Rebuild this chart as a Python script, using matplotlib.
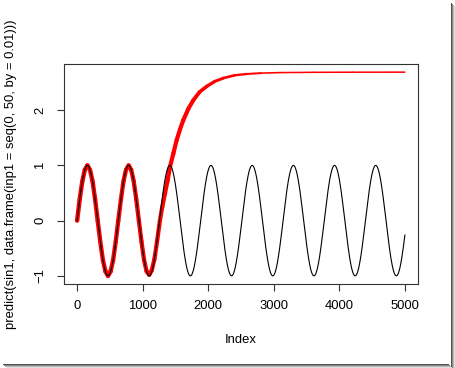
import numpy as np
import matplotlib
matplotlib.use("Agg")
import matplotlib.pyplot as plt
from matplotlib.collections import LineCollection
from matplotlib.patches import Rectangle

plt.rcParams['font.family'] = ['Liberation Sans', 'DejaVu Sans']

# ---- data ----
inp1 = np.arange(0, 5001) * 0.01          # seq(0, 50, by = 0.01)
black_index = np.arange(1, 5002)
black_value = np.sin(inp1)

red_index = [1, 40, 80, 119, 158, 197, 237, 276, 315, 354, 394, 433, 472, 512, 551, 590,
             629, 669, 708, 747, 786, 826, 865, 904, 943, 983, 1022, 1061, 1101, 1140, 1180, 1220,
             1264, 1300, 1341, 1380, 1417, 1470, 1520, 1570, 1621, 1700, 1774, 1870, 1978, 2100,
             2232, 2400, 2590, 2800, 3100, 3600, 4200, 5001]
red_value = [0, .38, .71, .92, 1, .92, .71, .38, 0, -.38, -.71, -.92, -1, -.92, -.71, -.38,
             0, .38, .71, .92, 1, .92, .71, .38, 0, -.38, -.71, -.92, -.98, -.90, -.70, -.38,
             0.0, .25, .49, .72, .97, 1.22, 1.46, 1.65, 1.82, 2.03, 2.18, 2.33, 2.43, 2.52,
             2.58, 2.63, 2.655, 2.67, 2.68, 2.685, 2.687, 2.688]

x_ticks = [0, 1000, 2000, 3000, 4000, 5000]
y_ticks = [-1, 0, 1, 2]
x_label = "Index"
y_label = "predict(sin1, data.frame(inp1 = seq(0, 50, by = 0.01)))"

# ---- figure ----
W, H = 455, 368
fig = plt.figure(figsize=(W / 100, H / 100), dpi=100)
ax = fig.add_axes([64 / W, 1 - 284 / H, (418 - 64) / W, (284 - 64) / H])

# red prediction with width tapering (style only)
rx = np.array(red_index, dtype=float)
ry = np.array(red_value, dtype=float)
pts = np.column_stack([rx, ry]).reshape(-1, 1, 2)
segs = np.concatenate([pts[:-1], pts[1:]], axis=1)
mid = (rx[:-1] + rx[1:]) / 2
widths = np.interp(mid, [0, 1700, 2300, 3000, 5001], [3.2, 3.0, 1.9, 1.1, 1.1])
lc = LineCollection(segs, colors='#ff0000', linewidths=widths, capstyle='round', joinstyle='round')
ax.add_collection(lc)

ax.plot(black_index, black_value, color='black', lw=0.8)

ax.set_xlim(-199, 5201)
ax.set_ylim(-1.1475, 2.8355)
ax.set_xticks(x_ticks)
ax.set_yticks(y_ticks)
ax.tick_params(axis='both', length=5, width=0.8, labelsize=9.4, color='#333333')
ax.tick_params(axis='x', pad=6.8)
ax.tick_params(axis='y', pad=7.9)
for lab in ax.get_yticklabels():
    lab.set_rotation(90)
    lab.set_va('center')
for s in ax.spines.values():
    s.set_linewidth(0.8)
    s.set_color('#333333')

fig.text(241 / W, 1 - 340 / H, x_label, ha='center', va='center', fontsize=9.4)
fig.text(11.5 / W, 1 - 174 / H, y_label, ha='center', va='center', rotation=90, fontsize=9.4)

# screenshot drop shadow on right and bottom
shades = ['#505050', '#8a8a8a', '#b8b8b8', '#e0e0e0']
for i, c in enumerate(shades):
    fig.add_artist(Rectangle(((451 + i) / W, 0), 1 / W, 1 - (3 + i) / H,
                             transform=fig.transFigure, color=c, lw=0))
    fig.add_artist(Rectangle(((3 + i) / W, 1 - (364 + i + 1) / H), (449 - 3) / W, 1 / H,
                             transform=fig.transFigure, color=c, lw=0))

fig.savefig("out.png", dpi=100)
